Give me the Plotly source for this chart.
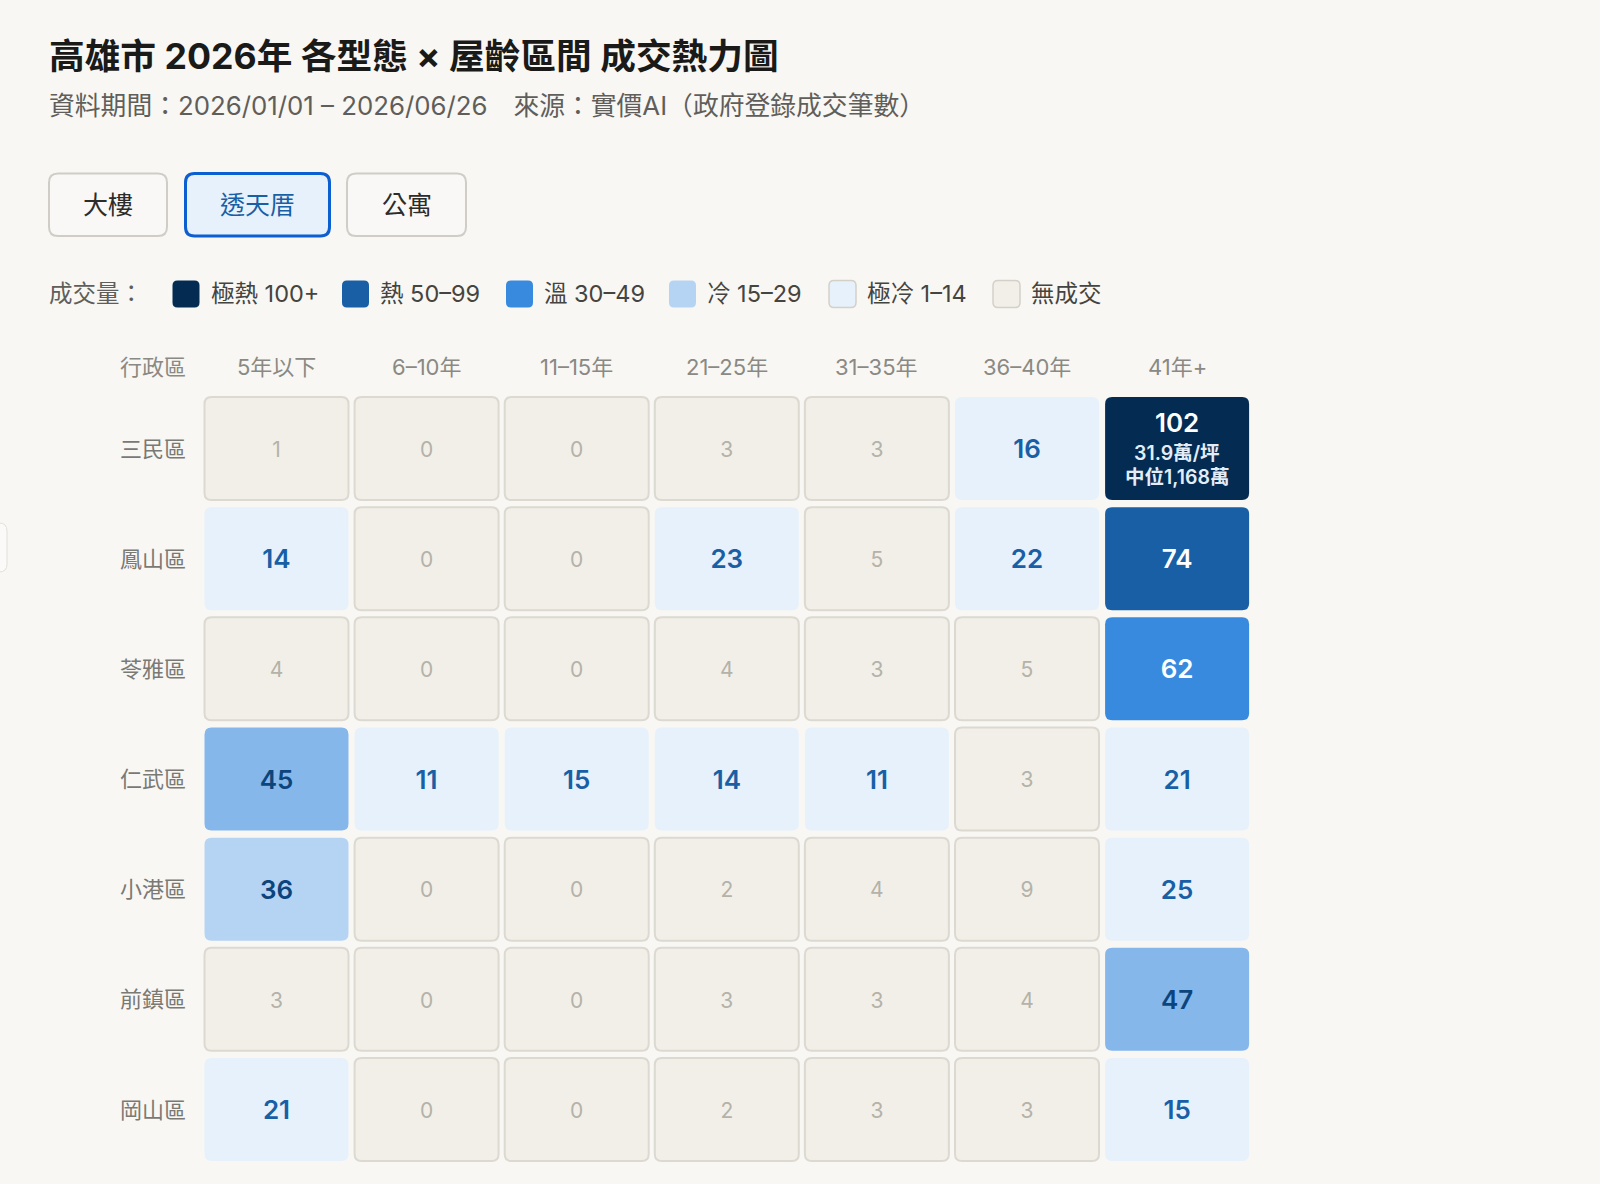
import plotly.graph_objects as go

# ---------------- data ----------------
districts = ["三民區", "鳳山區", "苓雅區", "仁武區", "小港區", "前鎮區", "岡山區"]
age_bins = ["5年以下", "6–10年", "11–15年", "21–25年", "31–35年", "36–40年", "41年+"]

sanmin = [1, 0, 0, 3, 3, 16, 102]
fengshan = [14, 0, 0, 23, 5, 22, 74]
lingya = [4, 0, 0, 4, 3, 5, 62]
renwu = [45, 11, 15, 14, 11, 3, 21]
xiaogang = [36, 0, 0, 2, 4, 9, 25]
qianzhen = [3, 0, 0, 3, 3, 4, 47]
gangshan = [21, 0, 0, 2, 3, 3, 15]
counts = [sanmin, fengshan, lingya, renwu, xiaogang, qianzhen, gangshan]

top_cell_price = "31.9萬/坪"
top_cell_median = "中位1,168萬"

property_types = ["大樓", "透天厝", "公寓"]
selected_type = "透天厝"

legend_labels = ["極熱 100+", "熱 50–99", "溫 30–49", "冷 15–29", "極冷 1–14", "無成交"]
legend_colors = ["#042c53", "#185fa5", "#378add", "#b5d4f4", "#e6f1fb", "#f1efe8"]

title_text = "高雄市 2026年 各型態 × 屋齡區間 成交熱力圖"
subtitle_text = "資料期間：2026/01/01 – 2026/06/26　來源：實價AI（政府登錄成交筆數）"

# ---------------- layout helpers ----------------
W, H = 1600, 1184
COL0, COLP = 276.5, 150.1
ROW0, ROWP = 448.5, 110.17
BG = "#f8f7f4"
FONT = "Inter, 'Noto Sans CJK TC', sans-serif"
TXT_DY = 3.0 / ROWP  # small vertical nudge for cell text


def px(p):
    return p / W


def py(p):
    return 1 - p / H


def tier(v):
    if v >= 100:
        return "#042c53", "#ffffff"
    if v >= 70:
        return "#185fa5", "#ffffff"
    if v >= 50:
        return "#378add", "#ffffff"
    if v >= 40:
        return "#85b7eb", "#0c447c"
    if v >= 30:
        return "#b5d4f4", "#0c447c"
    if v >= 10:
        return "#e6f1fb", "#185fa5"
    return "#f1efe8", "#b4b2a9"


def rr_path(x0, y0, x1, y1, rx, ry):
    return (f"M {x0+rx},{y0} L {x1-rx},{y0} Q {x1},{y0} {x1},{y0+ry} "
            f"L {x1},{y1-ry} Q {x1},{y1} {x1-rx},{y1} L {x0+rx},{y1} "
            f"Q {x0},{y1} {x0},{y1-ry} L {x0},{y0+ry} Q {x0},{y0} {x0+rx},{y0} Z")


shapes = []
annotations = []

# ---------------- heatmap cells ----------------
hw = 72 / COLP
hh = 51.5 / ROWP
crx, cry = 7 / COLP, 7 / ROWP

gx, gy, gt, gc = [], [], [], []
bx, by, bt, bc = [], [], [], []
for r, row in enumerate(counts):
    for c, v in enumerate(row):
        fill, tcol = tier(v)
        beige = v < 10
        shapes.append(dict(
            type="path", xref="x", yref="y", layer="below",
            path=rr_path(c - hw, r - hh, c + hw, r + hh, crx, cry),
            fillcolor=fill,
            line=dict(color="#dcd9d1" if beige else fill, width=2 if beige else 0),
        ))
        if beige:
            gx.append(c); gy.append(r + TXT_DY); gt.append(str(v)); gc.append(tcol)
        else:
            if v >= 100:
                bx.append(c); by.append(r - 23 / ROWP); bt.append(str(v)); bc.append(tcol)
                annotations.append(dict(
                    x=c, y=r + 4 / ROWP, xref="x", yref="y", text=top_cell_price,
                    showarrow=False, font=dict(family=FONT, size=19.5, color="#e3edf8", weight=600)))
                annotations.append(dict(
                    x=c, y=r + 28.5 / ROWP, xref="x", yref="y", text=top_cell_median,
                    showarrow=False, font=dict(family=FONT, size=19.5, color="#e3edf8", weight=600)))
            else:
                bx.append(c); by.append(r + TXT_DY); bt.append(str(v)); bc.append(tcol)

fig = go.Figure()
fig.add_trace(go.Scatter(
    x=gx, y=gy, text=gt, mode="text", hoverinfo="skip", showlegend=False,
    textfont=dict(family=FONT, size=21, color=gc, weight=400)))
fig.add_trace(go.Scatter(
    x=bx, y=by, text=bt, mode="text", hoverinfo="skip", showlegend=False,
    textfont=dict(family=FONT, size=26, color=bc, weight=600)))

# column headers and row labels
header_y = (367 - ROW0) / ROWP
label_x = (153 - COL0) / COLP
annotations.append(dict(x=label_x, y=header_y, xref="x", yref="y", text="行政區", showarrow=False,
                        font=dict(family=FONT, size=22, color="#8a8983")))
for c, name in enumerate(age_bins):
    annotations.append(dict(x=c, y=header_y, xref="x", yref="y", text=name, showarrow=False,
                            font=dict(family=FONT, size=22, color="#8a8983")))
for r, name in enumerate(districts):
    annotations.append(dict(x=label_x, y=r, xref="x", yref="y", text=name, showarrow=False,
                            font=dict(family=FONT, size=22, color="#7a7974")))

# ---------------- title ----------------
annotations.append(dict(x=px(47), y=py(56), xref="paper", yref="paper", xanchor="left", yanchor="middle",
                        text=title_text, showarrow=False,
                        font=dict(family=FONT, size=35.7, color="#1a1a18", weight=700)))
annotations.append(dict(x=px(47), y=py(106), xref="paper", yref="paper", xanchor="left", yanchor="middle",
                        text=subtitle_text, showarrow=False,
                        font=dict(family=FONT, size=25.8, color="#5f5e5a")))

# ---------------- buttons ----------------
btn_boxes = [(49, 167), (185.5, 329.5), (347, 466)]
for name, (x0, x1) in zip(property_types, btn_boxes):
    sel = name == selected_type
    shapes.append(dict(
        type="path", xref="paper", yref="paper",
        path=rr_path(px(x0), py(236), px(x1), py(173.5), 9 / W, 9 / H),
        fillcolor="#e6f1fb" if sel else "#f9f8f6",
        line=dict(color="#0b5fd0" if sel else "#cfcdc6", width=3 if sel else 2),
    ))
    annotations.append(dict(x=px((x0 + x1) / 2), y=py(205), xref="paper", yref="paper",
                            xanchor="center", yanchor="middle",
                            text=name, showarrow=False,
                            font=dict(family=FONT, size=25, color="#185fa5" if sel else "#2c2c2a")))

# ---------------- legend ----------------
annotations.append(dict(x=px(47), y=py(294), xref="paper", yref="paper", xanchor="left", yanchor="middle",
                        text="成交量：", showarrow=False, font=dict(family=FONT, size=23.5, color="#5f5e5a")))
sw_x = [172.5, 342, 506, 669, 829, 993]
for lab, col, sx in zip(legend_labels, legend_colors, sw_x):
    light = col in ("#e6f1fb", "#f1efe8")
    shapes.append(dict(
        type="path", xref="paper", yref="paper",
        path=rr_path(px(sx), py(307.5), px(sx + 27), py(280.5), 5 / W, 5 / H),
        fillcolor=col, line=dict(color="#d3d1c7" if light else col, width=1.5 if light else 0)))
    annotations.append(dict(x=px(sx + 36), y=py(294), xref="paper", yref="paper",
                            xanchor="left", yanchor="middle", text=lab, showarrow=False,
                            font=dict(family=FONT, size=23.5, color="#444441")))

# small side tab at left edge
shapes.append(dict(type="path", xref="paper", yref="paper",
                   path=rr_path(px(-12), py(572), px(7), py(523), 8 / W, 8 / H),
                   fillcolor="#fbfaf8", line=dict(color="#e2e0da", width=1)))

fig.update_layout(
    width=W, height=H,
    margin=dict(l=0, r=0, t=0, b=0),
    paper_bgcolor=BG, plot_bgcolor=BG,
    shapes=shapes, annotations=annotations,
    showlegend=False,
    xaxis=dict(range=[(0 - COL0) / COLP, (W - COL0) / COLP], visible=False, fixedrange=True),
    yaxis=dict(range=[(H - ROW0) / ROWP, (0 - ROW0) / ROWP], visible=False, fixedrange=True),
)

fig.write_html("out.html", config={"displayModeBar": False},
               post_script="document.body.style.margin='0';document.body.style.background='#f8f7f4';document.body.style.overflow='hidden';")
